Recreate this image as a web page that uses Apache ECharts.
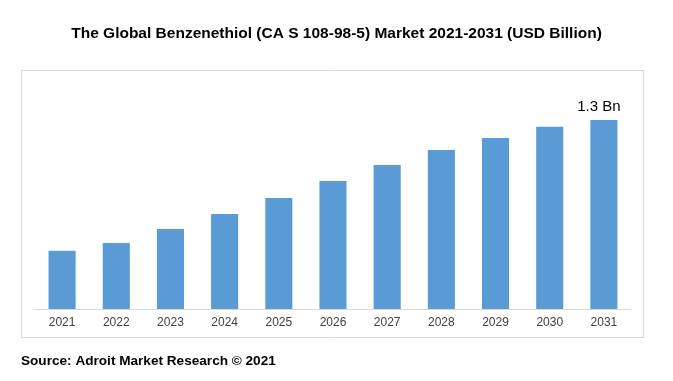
<!DOCTYPE html>
<html><head><meta charset="utf-8">
<script src="https://cdn.jsdelivr.net/npm/echarts@6/dist/echarts.min.js"></script>
<style>html,body{margin:0;padding:0;background:#fff;}#c{width:673px;height:381px;}</style>
</head><body><div id="c"></div>
<script>
var categories = ['2021','2022','2023','2024','2025','2026','2027','2028','2029','2030','2031'];
var values = [0.40, 0.454, 0.55, 0.653, 0.763, 0.88, 0.99, 1.094, 1.176, 1.254, 1.3];
var lastLabel = '1.3 Bn';

var chart = echarts.init(document.getElementById('c'), null, {renderer:'canvas'});
chart.setOption({
  animation: false,
  backgroundColor: '#fff',
  title: {
    text: 'The Global Benzenethiol (CA S 108-98-5) Market 2021-2031 (USD Billion)',
    left: 'center', top: 21,
    textStyle: {fontFamily: 'Liberation Sans, Arial', fontWeight: 'bold', fontSize: 15.5, color: '#000'}
  },
  graphic: [
    {type: 'rect', shape: {x: 21.5, y: 70.5, width: 622, height: 267}, style: {fill: 'none', stroke: '#d9d9d9', lineWidth: 1}, z: -1},
    {type: 'text', left: 21, top: 354, style: {text: 'Source: Adroit Market Research © 2021', fontFamily: 'Liberation Sans, Arial', fontWeight: 'bold', fontSize: 13.6, fill: '#000'}}
  ],
  grid: {left: 35, right: 42, top: 70, bottom: 72},
  xAxis: {
    type: 'category', data: categories,
    axisLine: {lineStyle: {color: '#d9d9d9'}},
    axisTick: {show: false},
    axisLabel: {fontFamily: 'Liberation Sans, Arial', fontSize: 12, color: '#404040', margin: 8}
  },
  yAxis: {type: 'value', min: 0, max: 1.644, show: false, splitLine: {show: false}},
  series: [{
    type: 'bar', data: values.map(function(v, i){
      return i === values.length - 1 ? {value: v, label: {show: true, position: 'top', formatter: lastLabel, fontFamily: 'Liberation Sans, Arial', fontSize: 15, color: '#000', distance: 6, offset: [-5, 0]}} : v;
    }),
    barWidth: '50%',
    itemStyle: {color: '#5B9BD5'}
  }]
});
</script></body></html>
